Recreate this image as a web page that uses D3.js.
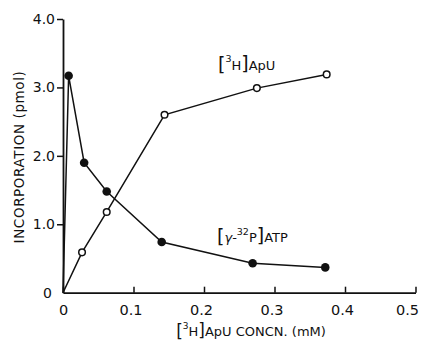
<!DOCTYPE html>
<html>
<head>
<meta charset="utf-8">
<script src="https://cdn.jsdelivr.net/npm/d3@7"></script>
<style>
  body { margin: 0; background: #fff; }
  text { font-family: "DejaVu Sans", sans-serif; fill: #111; }
</style>
</head>
<body>
<script>
// data
const apuX = [0, 0.027, 0.062, 0.144, 0.275, 0.374];
const apuY = [0, 0.59, 1.18, 2.60, 2.99, 3.19];
const atpX = [0, 0.008, 0.030, 0.062, 0.140, 0.269, 0.372];
const atpY = [0, 3.17, 1.90, 1.48, 0.74, 0.43, 0.37];
const xTicks = [0, 0.1, 0.2, 0.3, 0.4, 0.5];
const xTickLabels = ["0", "0.1", "0.2", "0.3", "0.4", "0.5"];
const yTicks = [0, 1, 2, 3, 4];
const yTickLabels = ["0", "1.0", "2.0", "3.0", "4.0"];

const W = 423, H = 343;
const margin = { top: 19, right: 8, bottom: 50, left: 63 };

const x = d3.scaleLinear().domain([0, 0.5]).range([margin.left, 415.5]);
const y = d3.scaleLinear().domain([0, 4]).range([292.7, margin.top]);

const svg = d3.select("body").append("svg")
    .attr("width", W)
    .attr("height", H);

// axes
const xAxis = svg.append("g")
    .attr("transform", "translate(0," + y(0) + ")")
    .call(d3.axisBottom(x).tickValues(xTicks).tickSizeInner(-6).tickSizeOuter(0)
        .tickFormat((d, i) => xTickLabels[i]));
xAxis.select(".domain").attr("stroke", "#111").attr("stroke-width", 1.8);
xAxis.selectAll(".tick line").attr("stroke", "#111").attr("stroke-width", 1.5);
xAxis.selectAll(".tick text")
    .attr("y", 12).attr("font-size", 14.5)
    .attr("font-family", "DejaVu Sans, sans-serif").attr("fill", "#111")
    .attr("dx", (d, i) => i === 0 ? 0 : -3);
xAxis.selectAll(".tick text").filter(d => d === 0.5)
    .attr("text-anchor", "end").attr("dx", 3);

const yAxis = svg.append("g")
    .attr("transform", "translate(" + x(0) + ",0)")
    .call(d3.axisLeft(y).tickValues(yTicks).tickSizeInner(6).tickSizeOuter(0)
        .tickFormat((d, i) => yTickLabels[i]));
yAxis.select(".domain").attr("stroke", "#111").attr("stroke-width", 1.8);
yAxis.selectAll(".tick line").attr("stroke", "#111").attr("stroke-width", 1.5);
yAxis.selectAll(".tick text").attr("x", -8).attr("font-size", 14)
    .attr("font-family", "DejaVu Sans, sans-serif").attr("fill", "#111");
yAxis.selectAll(".tick").filter(d => d === 0).select("line").remove();
yAxis.selectAll(".tick").filter(d => d === 0).select("text").attr("x", -11);

// axis titles
svg.append("text")
    .attr("transform", "translate(24,157) rotate(-90)")
    .attr("text-anchor", "middle")
    .attr("font-size", 13.5)
    .attr("letter-spacing", 0.6)
    .text("INCORPORATION (pmol)");

const xt = svg.append("text")
    .attr("x", 251).attr("y", 336)
    .attr("text-anchor", "middle")
    .attr("font-size", 13);
xt.append("tspan").attr("font-size", 17).attr("dy", 1).text("[");
xt.append("tspan").attr("font-size", 9).attr("dy", -8).text("3");
xt.append("tspan").attr("dy", 7).text("H");
xt.append("tspan").attr("font-size", 17).text("]");
xt.append("tspan").text("ApU CONCN. (mM)");

// lines
const line = d3.line().x(d => x(d[0])).y(d => y(d[1]));
const apu = apuX.map((d, i) => [d, apuY[i]]);
const atp = atpX.map((d, i) => [d, atpY[i]]);

svg.append("path").datum(atp).attr("d", line)
    .attr("fill", "none").attr("stroke", "#111").attr("stroke-width", 1.5);
svg.append("path").datum(apu).attr("d", line)
    .attr("fill", "none").attr("stroke", "#111").attr("stroke-width", 1.5);

svg.selectAll(".atp").data(atp.slice(1)).enter().append("circle")
    .attr("cx", d => x(d[0])).attr("cy", d => y(d[1]))
    .attr("r", 4.3).attr("fill", "#111");

svg.selectAll(".apu").data(apu.slice(1)).enter().append("circle")
    .attr("cx", d => x(d[0])).attr("cy", d => y(d[1]))
    .attr("r", 3.3).attr("fill", "#fff").attr("stroke", "#111").attr("stroke-width", 1.5);

// series labels
const l1 = svg.append("text").attr("x", 218).attr("y", 70).attr("font-size", 13);
l1.append("tspan").attr("font-size", 19).attr("dy", 1).text("[");
l1.append("tspan").attr("font-size", 9.5).attr("dy", -9).text("3");
l1.append("tspan").attr("dy", 8).text("H");
l1.append("tspan").attr("font-size", 19).text("]");
l1.append("tspan").text("ApU");

const l2 = svg.append("text").attr("x", 217).attr("y", 242).attr("font-size", 13);
l2.append("tspan").attr("font-size", 19).attr("dy", 1).text("[");
l2.append("tspan").attr("font-style", "italic").attr("dy", -1).text("γ");
l2.append("tspan").text("-");
l2.append("tspan").attr("font-size", 9.5).attr("dy", -7).text("32");
l2.append("tspan").attr("dy", 7).text("P");
l2.append("tspan").attr("font-size", 19).text("]");
l2.append("tspan").text("ATP");
</script>
</body>
</html>
